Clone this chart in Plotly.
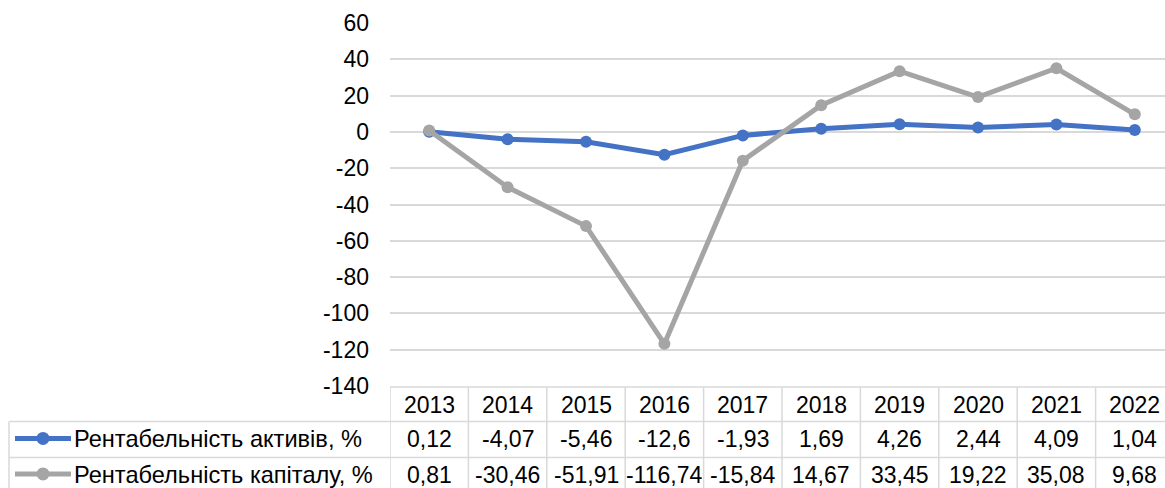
import plotly.graph_objects as go

years = ["2013", "2014", "2015", "2016", "2017", "2018", "2019", "2020", "2021", "2022"]
roa = [0.12, -4.07, -5.46, -12.6, -1.93, 1.69, 4.26, 2.44, 4.09, 1.04]
roe = [0.81, -30.46, -51.91, -116.74, -15.84, 14.67, 33.45, 19.22, 35.08, 9.68]
names = ["Рентабельність активів, %", "Рентабельність капіталу, %"]
colors = ["#4472C4", "#A5A5A5"]
y_ticks = list(range(-140, 61, 20))
y_ticktext = [str(v) for v in y_ticks]

W, H = 1165, 488
L, R, T, B = 390, 0, 22.7, 488 - 386
PW = W - L - R
PH = H - T - B
FONT = "Liberation Sans, Arial, sans-serif"
FS = 23
GRID = "#D9D9D9"
COLW = 78.4  # pixel width of a category column (plot area runs past the right edge)

def px(x):  # pixel x -> paper x
    return (x - L) / PW

def py(y):  # pixel y -> paper y
    return (H - B - y) / PH

ncol = len(years)
x_right = -0.5 + PW / COLW

fig = go.Figure()
for vals, name, c in zip([roa, roe], names, colors):
    fig.add_trace(go.Scatter(x=list(range(ncol)), y=vals, name=name, mode="lines+markers",
                             line=dict(color=c, width=5),
                             marker=dict(color=c, size=12),
                             cliponaxis=False, showlegend=False))

shapes = []
line = dict(color=GRID, width=1.5)
shapes.append(dict(type="line", xref="paper", yref="paper", x0=0, x1=1, y0=py(387), y1=py(387), line=line))
for yy in [421.5, 457.5]:
    shapes.append(dict(type="line", xref="paper", yref="paper", x0=px(9), x1=1, y0=py(yy), y1=py(yy), line=line))
for k in range(ncol):
    shapes.append(dict(type="line", xref="x", yref="paper", x0=k - 0.5, x1=k - 0.5, y0=py(387), y1=py(H + 5), line=line))
shapes.append(dict(type="line", xref="paper", yref="paper", x0=px(9), x1=px(9), y0=py(421.5), y1=py(H + 5), line=line))

annotations = []
rows_y = [439.5, 475]
tfont = dict(size=FS, color="#000000", family=FONT)
lfont = dict(size=23.6, color="#000000", family=FONT)
for i, y in enumerate(years):
    annotations.append(dict(x=i, xref="x", y=py(405), yref="paper", text=y, showarrow=False,
                            font=tfont, xanchor="center", yanchor="middle"))
for r, (vals, name, c) in enumerate(zip([roa, roe], names, colors)):
    yc = rows_y[r]
    for i, v in enumerate(vals):
        annotations.append(dict(x=i, xref="x", y=py(yc), yref="paper", text=str(v).replace(".", ","),
                                showarrow=False, font=tfont, xanchor="center", yanchor="middle"))
    annotations.append(dict(x=px(72), xref="paper", y=py(yc), yref="paper", text=name, showarrow=False,
                            font=lfont, xanchor="left", yanchor="middle"))
    shapes.append(dict(type="line", xref="paper", yref="paper", x0=px(15), x1=px(71), y0=py(yc - 1), y1=py(yc - 1),
                       line=dict(color=c, width=5)))
    shapes.append(dict(type="circle", xref="paper", yref="paper", x0=px(36.5), x1=px(49.5),
                       y0=py(yc - 7.5), y1=py(yc + 5.5), fillcolor=c, line=dict(color=c, width=0)))

fig.update_layout(
    width=W, height=H,
    margin=dict(l=L, r=R, t=T, b=B, pad=0),
    paper_bgcolor="white", plot_bgcolor="white",
    font=dict(family=FONT, size=FS, color="#000000"),
    shapes=shapes, annotations=annotations,
    xaxis=dict(range=[-0.5, x_right], showticklabels=False, showgrid=False,
               zeroline=False, showline=False, ticks=""),
    yaxis=dict(range=[-140, 60], tickvals=y_ticks, ticktext=y_ticktext, showgrid=True, gridcolor=GRID,
               gridwidth=1.5, zeroline=False, showline=False, ticks="", ticklabelstandoff=20,
               tickfont=tfont),
)

fig.write_html("out.html", config={"displayModeBar": False},
               post_script="document.body.style.margin='0';document.body.style.overflow='hidden';")
